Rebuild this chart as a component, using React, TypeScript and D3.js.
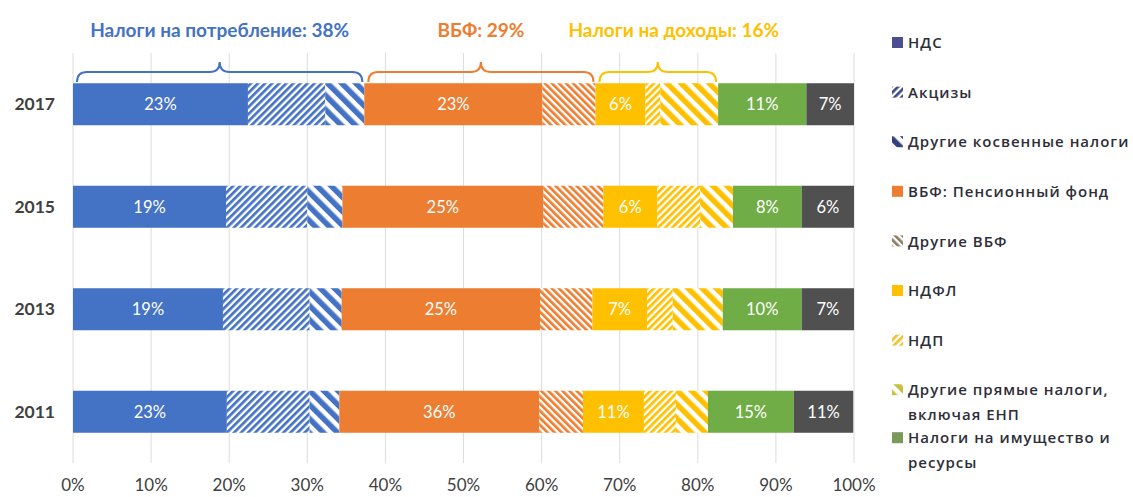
import React from "react";
import * as d3 from "d3";

const years = ["2017", "2015", "2013", "2011"];

const seriesNames = [
  "НДС",
  "Акцизы",
  "Другие косвенные налоги",
  "ВБФ: Пенсионный фонд",
  "Другие ВБФ",
  "НДФЛ",
  "НДП",
  "Другие прямые налоги, включая ЕНП",
  "Налоги на имущество и ресурсы",
  "Прочие",
];

// values in % per year (2017, 2015, 2013, 2011)
const vat = [22.4, 19.6, 19.2, 19.7];
const excise = [9.9, 10.4, 11.1, 10.6];
const otherIndirect = [5.0, 4.5, 4.1, 3.8];
const pension = [22.8, 25.7, 25.4, 25.6];
const otherFunds = [6.8, 7.7, 6.7, 5.6];
const pit = [6.4, 6.9, 7.0, 7.8];
const mineral = [1.9, 5.5, 3.3, 4.1];
const otherDirect = [7.4, 4.2, 6.4, 4.1];
const property = [11.3, 8.8, 10.1, 11.0];
const otherTaxes = [6.1, 6.7, 6.7, 7.6];

const seriesValues = [vat, excise, otherIndirect, pension, otherFunds, pit, mineral, otherDirect, property, otherTaxes];

// labels shown inside bars (solid segments), per year
const vatLabels = ["23%", "19%", "19%", "23%"];
const pensionLabels = ["23%", "25%", "25%", "36%"];
const pitLabels = ["6%", "6%", "7%", "11%"];
const propertyLabels = ["11%", "8%", "10%", "15%"];
const otherLabels = ["7%", "6%", "7%", "11%"];

const groupTitles = ["Налоги на потребление: 38%", "ВБФ: 29%", "Налоги на доходы: 16%"];
const groupRanges = [[0, 3], [3, 5], [5, 8]];

const xTicks = [0, 10, 20, 30, 40, 50, 60, 70, 80, 90, 100];

const legendItems = [
  ["НДС"],
  ["Акцизы"],
  ["Другие косвенные налоги"],
  ["ВБФ: Пенсионный фонд"],
  ["Другие ВБФ"],
  ["НДФЛ"],
  ["НДП"],
  ["Другие прямые налоги,", "включая ЕНП"],
  ["Налоги на имущество и", "ресурсы"],
];

const BLUE = "#4472C4";
const ORANGE = "#ED7D31";
const YELLOW = "#FFC000";
const GREEN = "#70AD47";
const DARK = "#505050";

const fills: [string, string][] = [
  [BLUE, "solid"],
  [BLUE, "up"],
  [BLUE, "wdown"],
  [ORANGE, "solid"],
  [ORANGE, "down"],
  [YELLOW, "solid"],
  [YELLOW, "up"],
  [YELLOW, "wdown"],
  [GREEN, "solid"],
  [DARK, "solid"],
];

const legendFills: [string, string][] = [
  ["#4b4f8f", "solid"],
  ["#3c4a86", "up"],
  ["#33407a", "wdown"],
  ["#ED7D31", "solid"],
  ["#8a7a60", "down"],
  ["#FFC000", "solid"],
  ["#F0C030", "up"],
  ["#C8C040", "wdown"],
  ["#7a9a5a", "solid"],
];

function patId(color: string, kind: string) {
  return `p-${kind}-${color.replace("#", "")}`;
}

function Pattern({ color, kind }: { color: string; kind: string }) {
  const id = patId(color, kind);
  let P = 5;
  let w = 2.8;
  let rot = 45;
  if (kind === "up") { P = 5; w = 2.7; rot = 45; }
  if (kind === "down") { P = 5; w = 2.7; rot = -45; }
  if (kind === "wdown") { P = 10; w = 5.5; rot = -45; }
  return (
    <pattern id={id} patternUnits="userSpaceOnUse" width={P} height={P} patternTransform={`rotate(${rot})`}>
      <rect width={P} height={P} fill="#ffffff" />
      <rect x={0} y={0} width={w} height={P} fill={color} />
    </pattern>
  );
}

function fillOf(color: string, kind: string) {
  return kind === "solid" ? color : `url(#${patId(color, kind)})`;
}

export default function App() {
  const W = 1133;
  const H = 497;
  const x = d3.scaleLinear().domain([0, 100]).range([73, 854]);
  const y = d3.scaleBand<string>().domain(years).range([53, 463]).paddingInner(0.59).paddingOuter(0.295);

  const rows = years.map((yr, i) => {
    const r: Record<string, number | string> = { year: yr };
    seriesNames.forEach((s, k) => { r[s] = seriesValues[k][i]; });
    return r;
  });
  const stack = d3.stack<Record<string, number | string>>().keys(seriesNames).value((d, k) => d[k] as number);
  const stacked = stack(rows);

  const labelSets: [number, string[]][] = [
    [0, vatLabels],
    [3, pensionLabels],
    [5, pitLabels],
    [8, propertyLabels],
    [9, otherLabels],
  ];

  const patterns = new Map<string, [string, string]>();
  [...fills, ...legendFills].forEach(([c, k]) => { if (k !== "solid") patterns.set(patId(c, k), [c, k]); });

  const titleColors = [BLUE, ORANGE, YELLOW];
  const titleDx = [0, 0, 16];

  const bracketY = 82;
  const bracketMid = 72;
  const bracketTip = 62;
  const bracketPath = (x1: number, x2: number) => {
    const xm = (x1 + x2) / 2;
    const r = 10;
    return `M${x1},${bracketY} Q${x1},${bracketMid} ${x1 + r},${bracketMid} L${xm - r},${bracketMid} Q${xm},${bracketMid} ${xm},${bracketTip} Q${xm},${bracketMid} ${xm + r},${bracketMid} L${x2 - r},${bracketMid} Q${x2},${bracketMid} ${x2},${bracketY}`;
  };

  const font = "Lato, 'Open Sans', sans-serif";

  return (
    <svg width={W} height={H} style={{ position: "absolute", left: 0, top: 0, background: "#fff" }} fontFamily={font}>
      <defs>
        {[...patterns.values()].map(([c, k]) => <Pattern key={patId(c, k)} color={c} kind={k} />)}
      </defs>
      <rect width={W} height={H} fill="#fff" />
      {xTicks.map((t) => (
        <line key={t} x1={x(t)} x2={x(t)} y1={53} y2={463} stroke="#dcdcdc" strokeWidth={1} />
      ))}
      {stacked.map((layer, k) => (
        <g key={layer.key}>
          {layer.map((d, i) => (
            <rect
              key={i}
              x={x(d[0])}
              y={y(years[i])}
              width={x(d[1]) - x(d[0])}
              height={y.bandwidth()}
              fill={fillOf(fills[k][0], fills[k][1])}
            />
          ))}
        </g>
      ))}
      {labelSets.map(([k, labels]) =>
        stacked[k].map((d, i) => (
          <text
            key={`${k}-${i}`}
            x={(x(d[0]) + x(d[1])) / 2}
            y={(y(years[i]) as number) + y.bandwidth() / 2}
            dy="0.35em"
            textAnchor="middle"
            fill="#ffffff"
            fontSize={16.5}
          >
            {labels[i]}
          </text>
        ))
      )}
      {years.map((yr) => (
        <text key={yr} x={55} y={(y(yr) as number) + y.bandwidth() / 2} dy="0.35em" textAnchor="end" fontSize={17.5} fontWeight="bold" fill="#404040">
          {yr}
        </text>
      ))}
      {xTicks.map((t) => (
        <text key={t} x={x(t)} y={491} textAnchor="middle" fontSize={17} fill="#404040">
          {`${t}%`}
        </text>
      ))}
      {groupRanges.map(([a, b], g) => {
        const x1 = x(stacked[a][0][0]) + 4;
        const x2 = x(stacked[b - 1][0][1]) - 2;
        return (
          <g key={g}>
            <path d={bracketPath(x1, x2)} fill="none" stroke={titleColors[g]} strokeWidth={2} />
            <text x={(x1 + x2) / 2 + titleDx[g]} y={37} textAnchor="middle" fontSize={19} fontWeight="bold" fill={titleColors[g]}>
              {groupTitles[g]}
            </text>
          </g>
        );
      })}
      {legendItems.map((lines, i) => {
        const cy = i < 8 ? 43 + i * 49.6 : 43 + 7 * 49.6 + 48;
        const [c, k] = legendFills[i];
        return (
          <g key={i}>
            <rect x={892} y={cy - 6} width={11} height={11} fill={fillOf(c, k)} />
            {lines.map((ln, j) => (
              <text key={j} x={908} y={cy + j * 25} dy="0.35em" fontSize={15} fontWeight={600} fill="#2e2e38" fontFamily="'Open Sans', sans-serif" letterSpacing={1}>
                {ln}
              </text>
            ))}
          </g>
        );
      })}
    </svg>
  );
}
